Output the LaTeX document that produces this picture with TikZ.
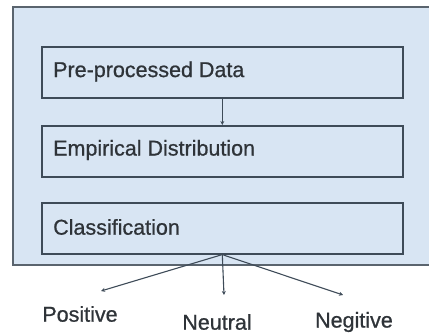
\documentclass[tikz,border=0pt]{standalone}
\usepackage{fontspec}
\setmainfont{Liberation Sans}
\newfontfamily\heavyfont{Liberation Sans}[FakeBold=0.8]
\usetikzlibrary{arrows.meta}
\definecolor{boxfill}{HTML}{D8E5F3}
\definecolor{boxline}{HTML}{3E4B58}
\definecolor{outline}{HTML}{5A646E}
\definecolor{txt}{HTML}{2E3338}
\tikzset{
  stage/.style={draw=boxline, line width=1.6pt, fill=boxfill, minimum width=361pt, minimum height=51pt, inner sep=0pt, anchor=north west},
  lbl/.style={text=txt, font=\heavyfont\fontsize{21.5}{25}\selectfont, inner sep=0pt},
  conn/.style={draw=boxline, line width=1.1pt, -{Stealth[length=4pt,width=4pt]}},
}
\begin{document}
\begin{tikzpicture}[x=1pt,y=-1pt]
\useasboundingbox (0,0) rectangle (429,334);
\begin{scope}
\clip (0,0) rectangle (429,334);
\draw[draw=outline, line width=1.4pt, fill=boxfill] (13,7) rectangle (445,265);
\end{scope}
\node[stage] (b1) at (41,46) {};
\node[stage] (b2) at (41,125) {};
\node[stage] (b3) at (41,202) {};
\node[lbl, anchor=west] (t1) at (53,71.5) {Pre-processed Data};
\node[lbl, anchor=west] (t2) at (53,150) {Empirical Distribution};
\node[lbl, anchor=west] (t3) at (53,227) {Classification};
\draw[conn] (b1.south) -- (b2.north);
\coordinate (e1) at (101,291);
\coordinate (e2) at (224,295);
\coordinate (e3) at (343,295);
\draw[conn] (b3.south) -- (e1);
\draw[conn] (b3.south) -- (e2);
\draw[conn] (b3.south) -- (e3);
\node[lbl] (pos) at (80,314) {Positive};
\node[lbl] (neu) at (217,322) {Neutral};
\node[lbl] (neg) at (354,322) {Negitive};
\end{tikzpicture}
\end{document}
